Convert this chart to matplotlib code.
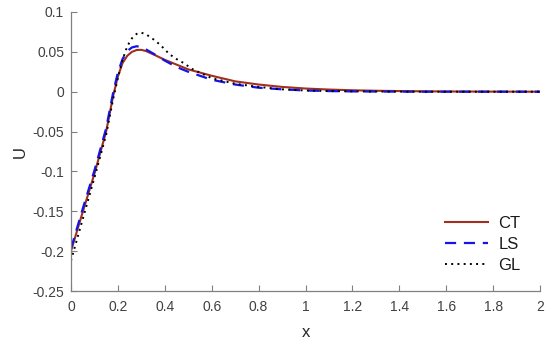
import matplotlib
matplotlib.use("Agg")
import matplotlib.pyplot as plt

plt.rcParams['font.family'] = ['Liberation Sans', 'DejaVu Sans']

x_ct = [0, 0.05, 0.1, 0.15, 0.18, 0.2, 0.22, 0.24, 0.26, 0.28, 0.3, 0.32, 0.35, 0.4,
        0.45, 0.5, 0.6, 0.7, 0.8, 0.9, 1.0, 1.1, 1.2, 1.3, 1.4, 1.5, 1.6, 1.8, 2.0]
u_ct = [-0.200, -0.151, -0.103, -0.050, -0.005, 0.019, 0.036, 0.045, 0.050, 0.0523, 0.0525,
        0.051, 0.047, 0.040, 0.034, 0.028, 0.020, 0.013, 0.009, 0.006, 0.004, 0.0027,
        0.0018, 0.0012, 0.0008, 0.0005, 0.0003, 0.0001, 0.0]

x_ls = [0, 0.05, 0.1, 0.15, 0.18, 0.2, 0.22, 0.24, 0.26, 0.28, 0.3, 0.32, 0.35, 0.4,
        0.45, 0.5, 0.6, 0.7, 0.8, 0.9, 1.0, 1.1, 1.2, 1.3, 1.4, 1.5, 1.6, 1.8, 2.0]
u_ls = [-0.197, -0.147, -0.099, -0.046, -0.001, 0.024, 0.041, 0.051, 0.0555, 0.057, 0.056,
        0.053, 0.048, 0.039, 0.031, 0.025, 0.015, 0.009, 0.005, 0.003, 0.0015, 0.0008,
        0.0004, 0.0002, 0.0001, 0.0, 0.0, 0.0, 0.0]

x_gl = [0, 0.05, 0.1, 0.15, 0.18, 0.2, 0.22, 0.24, 0.26, 0.28, 0.3, 0.32, 0.35, 0.38,
        0.4, 0.42, 0.45, 0.48, 0.5, 0.52, 0.6, 0.7, 0.8, 0.9, 1.0, 1.1, 1.2, 1.3, 1.4,
        1.5, 1.6, 1.8, 2.0]
u_gl = [-0.212, -0.160, -0.108, -0.054, -0.009, 0.017, 0.040, 0.057, 0.067, 0.0725, 0.074,
        0.072, 0.066, 0.059, 0.053, 0.047, 0.041, 0.036, 0.032, 0.028, 0.017, 0.010,
        0.006, 0.003, 0.0015, 0.0008, 0.0004, 0.0002, 0.0001, 0.0, 0.0, 0.0, 0.0]

x_ticks = [0, 0.2, 0.4, 0.6, 0.8, 1.0, 1.2, 1.4, 1.6, 1.8, 2.0]
x_ticklabels = ['0', '0.2', '0.4', '0.6', '0.8', '1', '1.2', '1.4', '1.6', '1.8', '2']
y_ticks = [-0.25, -0.2, -0.15, -0.1, -0.05, 0, 0.05, 0.1]
y_ticklabels = ['-0.25', '-0.2', '-0.15', '-0.1', '-0.05', '0', '0.05', '0.1']

fig = plt.figure(figsize=(5.5, 3.42), dpi=100)
ax = fig.add_axes([0.129, 0.149, 0.853, 0.816])

ax.plot(x_ct, u_ct, color='#a0301e', lw=1.5, ls='-', label='CT')
ax.plot(x_ls, u_ls, color='#1414e6', lw=1.6, ls=(0, (5, 3.5)), label='LS')
ax.plot(x_gl, u_gl, color='black', lw=1.4, ls=(0, (1, 2.2)), label='GL')

ax.set_xlim(0, 2)
ax.set_ylim(-0.25, 0.1)
ax.set_xticks(x_ticks)
ax.set_xticklabels(x_ticklabels)
ax.set_yticks(y_ticks)
ax.set_yticklabels(y_ticklabels)

for s in ['top', 'right']:
    ax.spines[s].set_visible(False)
for s in ['left', 'bottom']:
    ax.spines[s].set_color('#808080')
    ax.spines[s].set_linewidth(0.9)
ax.tick_params(direction='in', length=4, width=0.8, colors='#808080',
               labelcolor='#404040', labelsize=10)
ax.tick_params(axis='x', pad=6.5)
ax.tick_params(axis='y', pad=5)

ax.set_xlabel('x', fontsize=12, color='#262626', labelpad=8)
ax.set_ylabel('U', fontsize=12, color='#262626', labelpad=3)

leg = ax.legend(loc='upper left', frameon=False, fontsize=12, handlelength=2.6,
                handletextpad=0.6, borderpad=0, borderaxespad=0,
                bbox_to_anchor=(445 / 550, 1 - 216 / 342),
                bbox_transform=fig.transFigure, labelspacing=0.36)
for t in leg.get_texts():
    t.set_color('#1a1a1a')

fig.savefig('out.png', dpi=100)
